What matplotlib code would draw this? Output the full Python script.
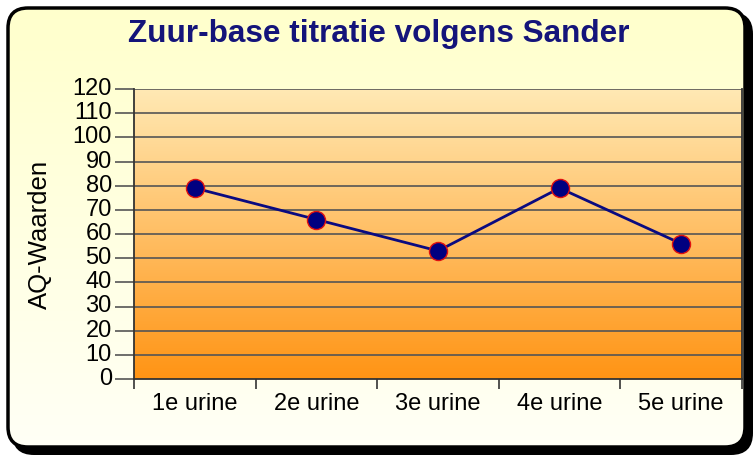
import numpy as np
import matplotlib
matplotlib.use("Agg")
import matplotlib.pyplot as plt
from matplotlib.patches import FancyBboxPatch
from matplotlib.colors import LinearSegmentedColormap

categories = ["1e urine", "2e urine", "3e urine", "4e urine", "5e urine"]
aq_values = [79, 66, 53, 79, 56]
y_ticks = list(range(0, 121, 10))

W, H = 755, 457
fig = plt.figure(figsize=(W / 100, H / 100), dpi=100)
fig.patch.set_facecolor("white")

# frame: shadow + rounded panel with pale yellow gradient
bg = fig.add_axes([0, 0, 1, 1], zorder=0)
bg.set_xlim(0, W); bg.set_ylim(H, 0); bg.axis("off")
shadow = FancyBboxPatch((12, 12), W - 14, H - 14, boxstyle="round,pad=0,rounding_size=22",
                        fc="black", ec="black", lw=0)
bg.add_patch(shadow)
panel = FancyBboxPatch((8, 8), W - 18, H - 18, boxstyle="round,pad=0,rounding_size=20",
                       fc="none", ec="black", lw=2.5, zorder=3)
bg.add_patch(panel)
bgcm = LinearSegmentedColormap.from_list("bg", ["#FFFFCC", "#FFFFF6"])
img = bg.imshow(np.linspace(0, 1, 256).reshape(-1, 1), cmap=bgcm, aspect="auto",
                extent=(8, W - 10, H - 10, 8), zorder=2)
img.set_clip_path(panel)

fig.text(0.502, 0.926, "Zuur-base titratie volgens Sander", ha="center", va="center",
         fontsize=22.7, fontweight="bold", color="#14147A", family="Liberation Sans")

ax = fig.add_axes([134 / W, 1 - 379 / H, (742 - 134) / W, (379 - 89) / H], zorder=5)
ax.patch.set_alpha(0)
x = np.arange(len(categories))
ax.set_xlim(-0.5, len(categories) - 0.5)
ax.set_ylim(0, 120)

# plot area gradient
pcm = LinearSegmentedColormap.from_list("pa", ["#FF9414", "#FFE9B4"])
ax.imshow(np.linspace(0, 1, 256).reshape(-1, 1), cmap=pcm, aspect="auto", origin="lower",
          extent=(-0.5, len(categories) - 0.5, 0, 120), zorder=0)

for v in y_ticks[1:]:
    ax.axhline(v, color="#555555", lw=1.2, zorder=1)

ax.plot(x, aq_values, color="#0A0A80", lw=2, marker="o", markersize=13,
        markerfacecolor="#000080", markeredgecolor="#E01010", markeredgewidth=1, zorder=4,
        clip_on=False)

ax.set_yticks(y_ticks)
ax.set_yticklabels([str(v) for v in y_ticks], family="Liberation Sans", fontsize=17)
ax.set_xticks(np.arange(-0.5, len(categories), 1.0))
ax.set_xticklabels([])
ax.set_xticks(x, minor=True)
ax.set_xticklabels(categories, minor=True, family="Liberation Sans", fontsize=17)
ax.tick_params(axis="x", which="minor", length=0, pad=10)
ax.tick_params(axis="x", which="major", length=7, width=1.2, color="#333333")
ax.tick_params(axis="y", length=14, width=1.2, color="#555555", pad=2)
for lab in ax.get_yticklabels():
    lab.set_verticalalignment("center")

ax.spines["top"].set_visible(False)
for s in ax.spines.values():
    s.set_color("#333333")
    s.set_linewidth(1.3)

ax.set_ylabel("AQ-Waarden", family="Liberation Sans", fontsize=18.5, labelpad=15)

fig.savefig("out.png", dpi=100)
